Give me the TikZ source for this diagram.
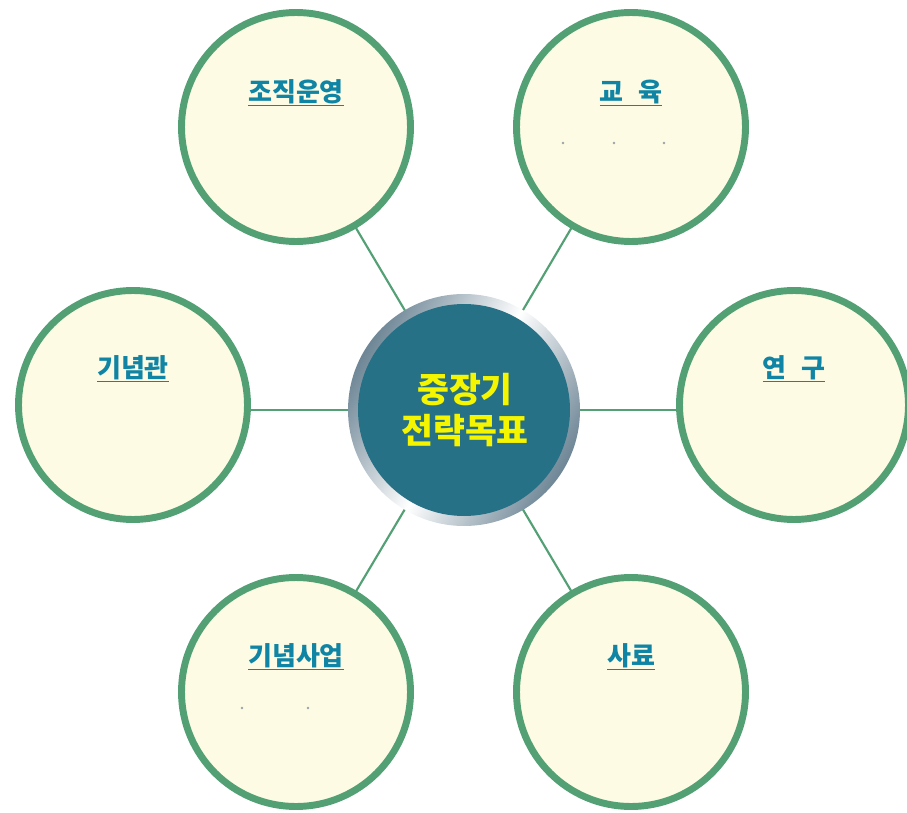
\documentclass[tikz,border=0pt]{standalone}
\usepackage{fontspec}
\newfontfamily\kr{Noto Sans CJK KR}
\usetikzlibrary{calc}
\definecolor{ringgreen}{HTML}{52A074}
\definecolor{cellfill}{HTML}{FDFBE3}
\definecolor{hubfill}{HTML}{277186}
\definecolor{labelblue}{HTML}{0F84A4}
\definecolor{hubtext}{HTML}{F5F500}
\definecolor{slate}{HTML}{6E8696}
\definecolor{dotgray}{HTML}{9AA4A8}
\newlength{\pxu}
\setlength{\pxu}{0.75pt}
\tikzset{
  cell/.style={circle, draw=ringgreen, line width=5.2pt, fill=cellfill, minimum size=229\pxu, inner sep=0pt},
  link/.style={draw=ringgreen, line width=1.6pt},
  celllabel/.style={font=\kr\fontsize{19.5}{21}\selectfont\bfseries, text=labelblue, inner sep=0pt},
  dotmark/.style={circle, fill=dotgray, inner sep=0pt, minimum size=2.2pt},
}
\begin{document}
\begin{tikzpicture}[x=0.75pt, y=-0.75pt]
\useasboundingbox (0,0) rectangle (907,813);
\coordinate (c) at (464,410);
\coordinate (tl) at (296,127);
\coordinate (tr) at (631,127);
\coordinate (ml) at (133,405);
\coordinate (mr) at (794,405);
\coordinate (bl) at (296,692);
\coordinate (br) at (631,692);
% links
\foreach \p in {tl,tr,bl,br} \draw[link] (c) -- (\p);
\draw[link] (c) -- (c -| ml);
\draw[link] (c) -- (c -| mr);
% cells
\node[cell] (ntl) at (tl) {};
\node[cell] (ntr) at (tr) {};
\node[cell] (nml) at (ml) {};
\node[cell] (nmr) at (mr) {};
\node[cell] (nbl) at (bl) {};
\node[cell] (nbr) at (br) {};
% labels
\node[celllabel] (ltl) at (296,93) {\underline{조직운영}};
\node[celllabel] (ltr) at (631,93) {\underline{교\hspace{0.55em}육}};
\node[celllabel] (lml) at (133,369) {\underline{기념관}};
\node[celllabel] (lmr) at (794,369) {\underline{연\hspace{0.55em}구}};
\node[celllabel] (lbl) at (296,657) {\underline{기념사업}};
\node[celllabel] (lbr) at (631,657) {\underline{사료}};
% dots
\node[dotmark] (d1) at (563,143) {};
\node[dotmark] (d2) at (614,143) {};
\node[dotmark] (d3) at (664,143) {};
\node[dotmark] (d4) at (242,708) {};
\node[dotmark] (d5) at (308,708) {};
% hub
\shade[left color=slate, right color=slate, middle color=white, shading angle=60] (c) circle (116);
\node[circle, fill=hubfill, minimum size=212\pxu, inner sep=0pt] (hub) at (c) {};
\node[font=\kr\fontsize{26}{28}\selectfont\bfseries, text=hubtext, align=center, inner sep=0pt] (hubtxt) at (465,410) {중장기\\[3pt]전략목표};
\end{tikzpicture}
\end{document}
